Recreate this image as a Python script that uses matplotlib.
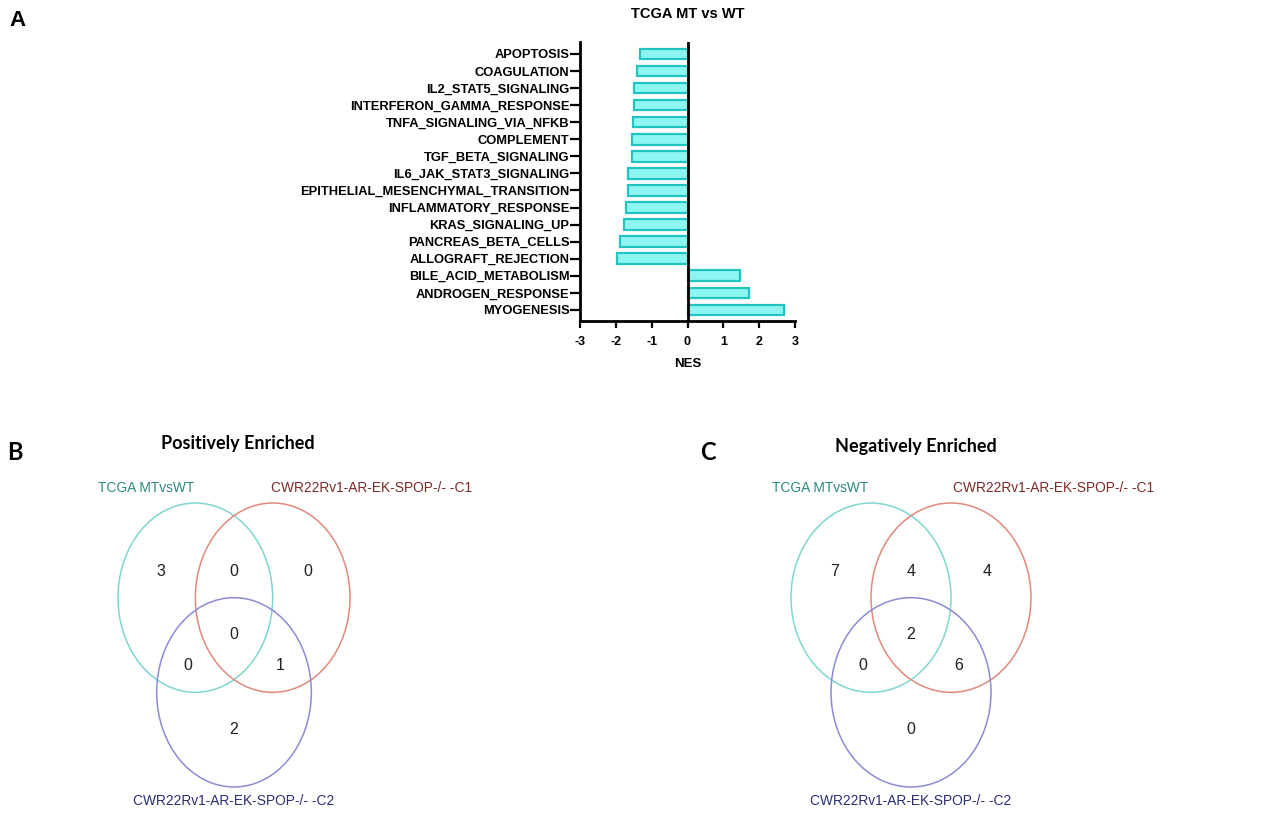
import matplotlib
matplotlib.use("Agg")
import matplotlib.pyplot as plt
from matplotlib.patches import Circle
import numpy as np

# ---- data -----------------------------------------------------------------
pathways = [
    "APOPTOSIS", "COAGULATION", "IL2_STAT5_SIGNALING", "INTERFERON_GAMMA_RESPONSE",
    "TNFA_SIGNALING_VIA_NFKB", "COMPLEMENT", "TGF_BETA_SIGNALING",
    "IL6_JAK_STAT3_SIGNALING", "EPITHELIAL_MESENCHYMAL_TRANSITION",
    "INFLAMMATORY_RESPONSE", "KRAS_SIGNALING_UP", "PANCREAS_BETA_CELLS",
    "ALLOGRAFT_REJECTION", "BILE_ACID_METABOLISM", "ANDROGEN_RESPONSE", "MYOGENESIS",
]
nes = [-1.33, -1.42, -1.50, -1.50, -1.52, -1.54, -1.56, -1.65, -1.65,
       -1.71, -1.78, -1.87, -1.97, 1.47, 1.72, 2.68]
nes_ticks = [-3, -2, -1, 0, 1, 2, 3]

set_names = ["TCGA MTvsWT", "CWR22Rv1-AR-EK-SPOP-/- -C1", "CWR22Rv1-AR-EK-SPOP-/- -C2"]
# region order: A only, A&B, B only, A&B&C, A&C, B&C, C only
regions = ["100", "110", "010", "111", "101", "011", "001"]
pos_counts = [3, 0, 0, 0, 0, 1, 2]
neg_counts = [7, 4, 4, 2, 0, 6, 0]

# ---- style ----------------------------------------------------------------
bar_fill = "#8ef6f2"
bar_edge = "#22c4bf"
circle_colors = ["#7fd6cf", "#e0897c", "#8c8cd6"]
label_colors = ["#2b8a80", "#7b2a28", "#2a2d75"]
ARIAL = ["Liberation Sans", "DejaVu Sans"]
CALIBRI = ["Lato", "DejaVu Sans"]

fig = plt.figure(figsize=(12.61, 8.13), dpi=100)
W, H = 1261, 813


def px_axes(x0, y0, x1, y1):
    return fig.add_axes([x0 / W, 1 - y1 / H, (x1 - x0) / W, (y1 - y0) / H])


# ---- panel A: NES bar chart ----------------------------------------------
ax = px_axes(580, 42, 795, 321)
y = np.arange(len(pathways))
ax.barh(y, nes, height=0.62, color=bar_fill, edgecolor=bar_edge, linewidth=1.6, zorder=2)
ax.axvline(0, color="black", lw=2.0, zorder=3)
ax.set_xlim(-3, 3)
ax.set_ylim(len(pathways) - 0.35, -0.7)
ax.set_yticks(y)
ax.set_yticklabels(pathways, family=ARIAL, fontweight="bold", fontsize=9.3)
ax.set_xticks(nes_ticks)
ax.set_xticklabels([str(t) for t in nes_ticks], family=ARIAL, fontweight="bold", fontsize=9)
for s in ("top", "right"):
    ax.spines[s].set_visible(False)
for s in ("left", "bottom"):
    ax.spines[s].set_linewidth(2.0)
ax.tick_params(axis="y", length=7, width=1.6, pad=0.5)
ax.tick_params(axis="x", length=5, width=1.6, pad=6)
ax.set_xlabel("NES", family=ARIAL, fontweight="bold", fontsize=9.5, labelpad=7)
ax.set_title("TCGA MT vs WT", family=ARIAL, fontweight="bold", fontsize=10.5, pad=17)

fig.text(17 / W, 1 - 20 / H, "A", family=ARIAL, fontweight="bold", fontsize=16,
         ha="center", va="center")

# ---- panels B and C: three-set Venn diagrams ------------------------------
centers = [(-0.5, 0.5), (0.5, 0.5), (0.0, -0.5)]
count_xy = {"100": (-0.95, 0.78), "110": (0.0, 0.78), "010": (0.95, 0.78),
            "111": (0.0, 0.11), "101": (-0.6, -0.22), "011": (0.6, -0.22),
            "001": (0.0, -0.89)}
label_xy = [(-1.13, 1.66), (1.78, 1.66), (0.0, -1.65)]


def venn(box, counts, title, letter, title_xy, letter_xy):
    v = px_axes(*box)
    v.set_xlim(-1.5, 1.5)
    v.set_ylim(-1.5, 1.5)
    v.axis("off")
    for (cx, cy), col in zip(centers, circle_colors):
        v.add_patch(Circle((cx, cy), 1.0, fill=False, edgecolor=col, lw=1.1,
                           clip_on=False))
    for key, n in zip(regions, counts):
        x, yy = count_xy[key]
        v.text(x, yy, str(n), family=ARIAL, fontsize=11.5, ha="center", va="center",
               color="#1e1e1e")
    for name, (x, yy), col in zip(set_names, label_xy, label_colors):
        v.text(x, yy, name, family=ARIAL, fontsize=9.9, ha="center", va="center",
               color=col, clip_on=False)
    fig.text(title_xy[0] / W, 1 - title_xy[1] / H, title, family=CALIBRI,
             fontweight="bold", fontsize=13, ha="center", va="center")
    fig.text(letter_xy[0] / W, 1 - letter_xy[1] / H, letter, family=CALIBRI,
             fontweight="bold", fontsize=17, ha="center", va="center")


venn((118, 503, 350, 787), pos_counts, "Positively Enriched", "B", (238, 443), (15, 452))
venn((791, 503, 1031, 787), neg_counts, "Negatively Enriched", "C", (916, 446), (708, 452))

fig.savefig("out.png", dpi=100, facecolor="white")
